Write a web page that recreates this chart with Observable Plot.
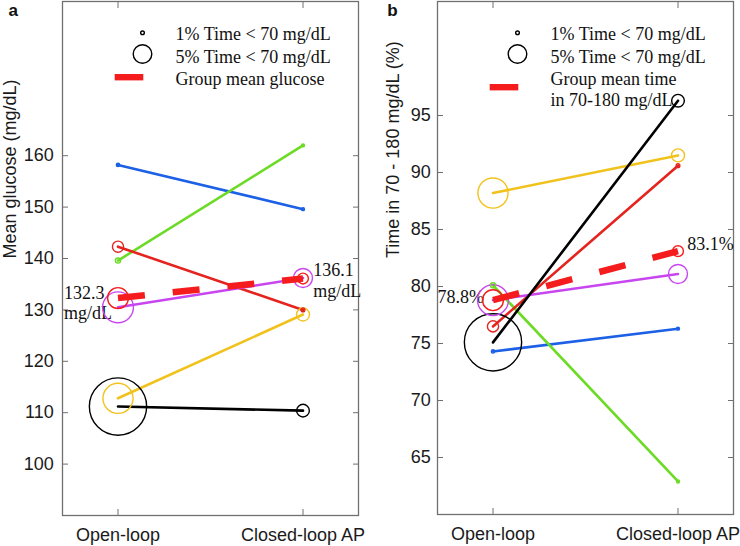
<!DOCTYPE html>
<html><head><meta charset="utf-8">
<script src="https://cdn.jsdelivr.net/npm/d3@7"></script>
<script src="https://cdn.jsdelivr.net/npm/@observablehq/plot@0.6"></script>
<style>
body{margin:0;background:#fff;}
#wrap{display:flex;width:740px;height:546px;overflow:hidden;}
#wrap svg{display:block;}
</style></head><body><div id="wrap"></div>
<script>
// ---- data ----
const phases = ["Open-loop", "Closed-loop AP"];
const subjects = ["S1", "S2", "S3", "S4", "S5", "S6"];
const subjectColors = ["#1c60e6", "#6cdb26", "#e5231f", "#c846f0", "#f2c21c", "#000000"];
const glucoseOpen   = [158.2, 139.6, 142.3, 130.5, 112.8, 111.2];
const glucoseClosed = [149.6, 162.0, 130.0, 136.2, 129.1, 110.4];
const tirOpen   = [74.3, 80.1, 76.5, 78.8, 88.2, 75.1];
const tirClosed = [76.3, 62.9, 90.6, 81.1, 91.5, 96.3];
const hypoOpen   = [0.9, 1.4, 3.0, 8.3, 8.1, 15.4];   // % time < 70 mg/dL (marker size)
const hypoClosed = [0.8, 0.8, 1.0, 5.1, 3.5, 3.4];
const meanGlucose = [132.3, 136.1];
const meanTir = [78.8, 83.1];
const meanHypo = [5.6, 2.9];
const legendPct = [1, 5];
const legendLabels = ["1% Time < 70 mg/dL", "5% Time < 70 mg/dL"];
const glucoseTicks = [100, 110, 120, 130, 140, 150, 160];
const tirTicks = [65, 70, 75, 80, 85, 90, 95];

const serif = "Liberation Serif, Times New Roman, serif";
const sans = "Liberation Sans, Arial, Helvetica, sans-serif";
const meanColor = "#f41c1c";
const gray = "#707070";
const barSymbol = {draw(ctx) { ctx.moveTo(-14.3, -3.2); ctx.lineTo(14.3, -3.2); ctx.lineTo(14.3, 3.2); ctx.lineTo(-14.3, 3.2); ctx.closePath(); }};

function makePanel(o) {
  const rows = subjects.flatMap((s, i) => [
    {s, phase: 1, v: o.open[i], h: hypoOpen[i]},
    {s, phase: 2, v: o.closed[i], h: hypoClosed[i]}
  ]);
  const meanRows = [1, 2].map((p, j) => ({phase: p, v: o.mean[j], h: meanHypo[j]}));
  const legText = (t, dy) => Plot.text([t], {frameAnchor: "top-left", text: d => d, dx: 113, dy, textAnchor: "start", lineAnchor: "top", lineHeight: 1.18, fontFamily: serif, fontSize: 18, fill: "#111"});
  return Plot.plot({
    width: 370, height: 546,
    marginLeft: o.ml, marginRight: o.mr, marginTop: 1, marginBottom: o.mb,
    style: {fontFamily: sans, fontSize: "18px", background: "#fff", overflow: "visible"},
    x: {domain: [0.7, 2.3], label: null},
    y: {domain: o.yDomain, label: null},
    r: {type: "linear", domain: [0, 5], range: [0, 9.3]},
    color: {domain: subjects, range: subjectColors},
    marks: [
      Plot.frame({stroke: gray, strokeWidth: 1.3}),
      Plot.axisY(o.yTicks, {anchor: "left", tickSize: -6, tickPadding: o.tpy, stroke: gray, fill: "#1a1a1a", label: null, fontSize: 18}),
      Plot.axisY(o.yTicks, {anchor: "right", tickSize: -6, tickFormat: () => "", stroke: gray, label: null}),
      Plot.axisX([1, 2], {anchor: "bottom", tickSize: -6, tickPadding: 19, tickFormat: d => phases[d - 1], stroke: gray, fill: "#1a1a1a", label: null, fontSize: 18}),
      Plot.axisX([1, 2], {anchor: "top", tickSize: -6, tickFormat: () => "", stroke: gray, label: null}),
      Plot.text([o.yLabel], {frameAnchor: "left", text: d => d, dx: o.labelDx, rotate: -90, fontFamily: sans, fontSize: 18, fill: "#1a1a1a"}),
      Plot.text([o.tag], {frameAnchor: "top-left", text: d => d, dx: o.tagDx, dy: 2, textAnchor: "start", lineAnchor: "top", fontFamily: sans, fontWeight: "bold", fontSize: 17, fill: "#111"}),
      // annotations
      Plot.text([meanRows[0]], {x: "phase", y: "v", text: o.fmt, textAnchor: "start", lineAnchor: "top", dx: o.a1dx, dy: o.a1dy, fontFamily: serif, fontSize: 18, lineHeight: 1.12, fill: "#111"}),
      Plot.text([meanRows[1]], {x: "phase", y: "v", text: o.fmt, textAnchor: "start", lineAnchor: "top", dx: o.a2dx, dy: o.a2dy, fontFamily: serif, fontSize: 18, lineHeight: 1.15, fill: "#111"}),
      // subjects
      Plot.line(rows, {x: "phase", y: "v", z: "s", stroke: "s", strokeWidth: 2.6}),
      Plot.dot(rows, {x: "phase", y: "v", r: "h", stroke: "s", fill: "none", strokeWidth: 1.4}),
      // group mean
      Plot.line(meanRows, {x: "phase", y: "v", stroke: meanColor, strokeWidth: 6.5, strokeDasharray: "27 28", strokeLinecap: "butt"}),
      Plot.dot(meanRows, {x: "phase", y: "v", r: "h", stroke: meanColor, fill: "none", strokeWidth: 1.4}),
      // legend
      Plot.dot([legendPct[0]], {frameAnchor: "top-left", r: d => d, dx: 80, dy: 31.3, stroke: "#000", fill: "none", strokeWidth: 1.4}),
      Plot.dot([legendPct[1]], {frameAnchor: "top-left", r: d => d, dx: 80, dy: 52.5, stroke: "#000", fill: "none", strokeWidth: 1.4}),
      Plot.dot([0], {frameAnchor: "top-left", dx: 66.5, dy: o.barDy, symbol: barSymbol, fill: meanColor, stroke: "none"}),
      legText(legendLabels[0], 23.8),
      legText(legendLabels[1], 46.2),
      legText(o.meanLabel, 68)
    ]
  });
}

const wrap = document.getElementById("wrap");
wrap.append(makePanel({
  tag: "a", tagDx: -54, ml: 62, mr: 12, mb: 31, tpy: 14.7, labelDx: -52.5,
  yDomain: [90, 190], yTicks: glucoseTicks, yLabel: "Mean glucose (mg/dL)",
  open: glucoseOpen, closed: glucoseClosed, mean: meanGlucose,
  fmt: d => `${d.v.toFixed(1)}\nmg/dL`,
  a1dx: -54, a1dy: -13.7, a2dx: 10.3, a2dy: -16.8,
  meanLabel: "Group mean glucose", barDy: 75.7
}));
wrap.append(makePanel({
  tag: "b", tagDx: -50.3, ml: 67, mr: 7, mb: 32, tpy: 12.7, labelDx: -44,
  yDomain: [60, 105], yTicks: tirTicks, yLabel: "Time in 70 - 180 mg/dL (%)",
  open: tirOpen, closed: tirClosed, mean: meanTir,
  fmt: d => `${d.v.toFixed(1)}%`,
  a1dx: -55.6, a1dy: -11.1, a2dx: 9.3, a2dy: -15.4,
  meanLabel: "Group mean time\nin 70-180 mg/dL", barDy: 85.7
}));
</script></body></html>
